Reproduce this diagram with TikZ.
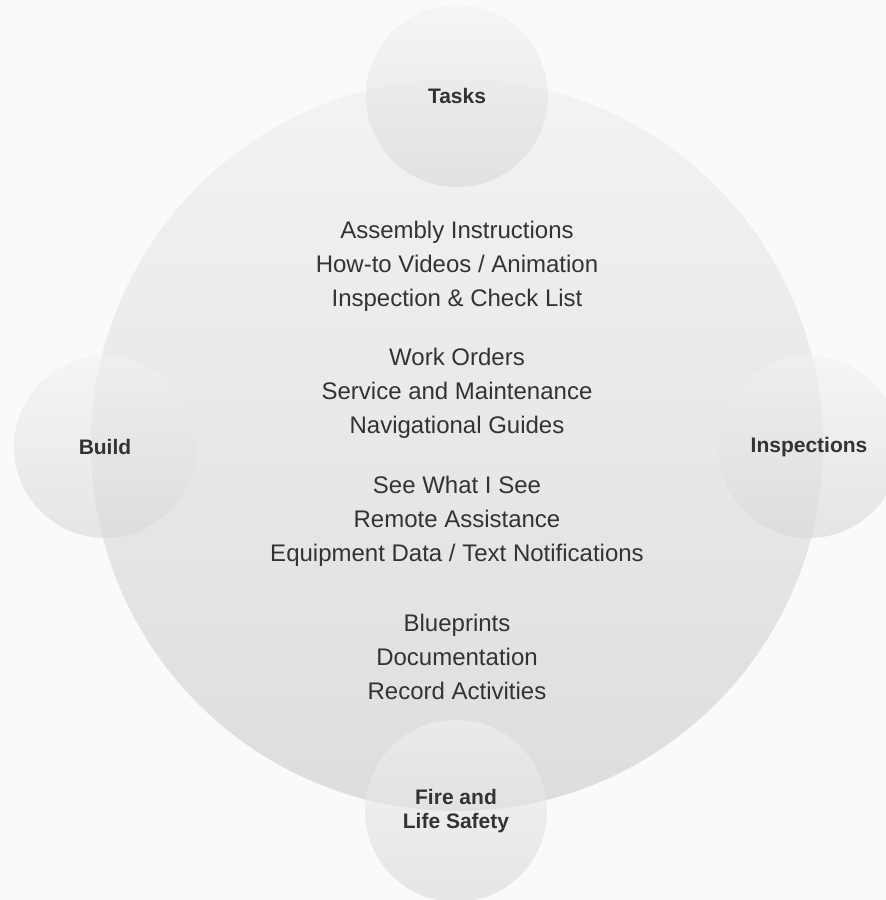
\documentclass[tikz,border=0pt]{standalone}
\usepackage{fontspec}
\setmainfont{Liberation Sans}
\usepackage{xcolor}
\definecolor{paper}{HTML}{FAFAFA}
\definecolor{hubtop}{HTML}{F3F3F3}
\definecolor{hubbottom}{HTML}{DDDDDD}
\definecolor{bubtop}{HTML}{F2F2F2}
\definecolor{bubbottom}{HTML}{D8D8D8}
\definecolor{ink}{HTML}{333333}
\usepackage{tikz}
\usetikzlibrary{positioning}

\begin{document}
\begin{tikzpicture}[
  x=1pt, y=-1pt,
  hub/.style={circle, minimum size=732pt, inner sep=0pt,
    top color=hubtop, bottom color=hubbottom},
  bubble/.style={circle, minimum size=182pt, inner sep=0pt, align=center,
    top color=bubtop, bottom color=bubbottom, fill opacity=0.6, text opacity=1,
    text=ink, font=\fontsize{21}{24}\selectfont\bfseries},
  usecase/.style={align=center, text=ink, font=\fontsize{24}{34}\selectfont}
]
  \useasboundingbox[fill=paper] (0,0) rectangle (886,900);
  \node[hub] (hub) at (457,445) {};
  \node[bubble] (tasks) at (457,96) {Tasks};
  \node[bubble] (build) at (105,447) {Build};
  \node[bubble] (insp) at (809,447) {Inspections};
  \node[bubble] (fire) at (456,811) {Fire and\\Life Safety};
  \node[usecase] (guide) at (457,266)
    {Assembly Instructions\\How-to Videos / Animation\\Inspection \& Check List};
  \node[usecase] (work) at (457,393)
    {Work Orders\\Service and Maintenance\\Navigational Guides};
  \node[usecase] (remote) at (457,521)
    {See What I See\\Remote Assistance\\Equipment Data / Text Notifications};
  \node[usecase] (record) at (457,657)
    {Blueprints\\Documentation\\Record Activities};
\end{tikzpicture}
\end{document}
